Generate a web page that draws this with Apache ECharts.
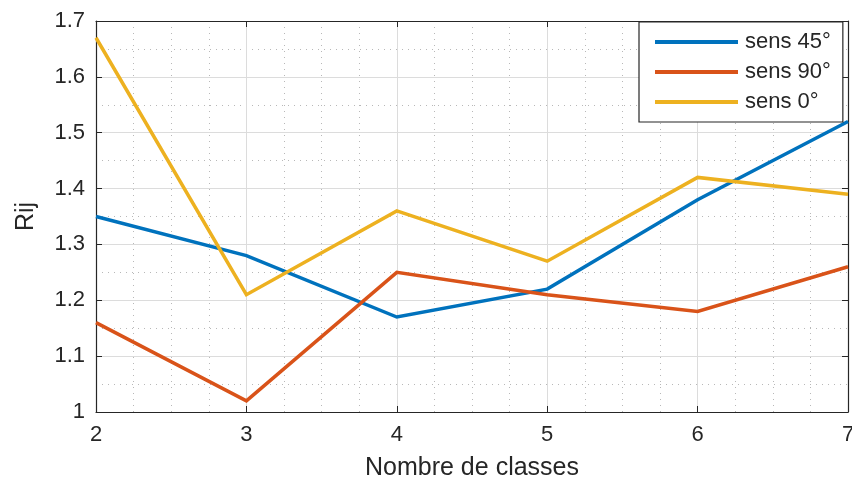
<!DOCTYPE html>
<html>
<head>
<meta charset="utf-8">
<script src="https://cdn.jsdelivr.net/npm/echarts@6/dist/echarts.min.js"></script>
<style>
  html, body { margin: 0; padding: 0; background: #fff; }
  #main { width: 852px; height: 488px; }
</style>
</head>
<body>
<div id="main"></div>
<script>
var classes = [2, 3, 4, 5, 6, 7];
var sens45 = [1.35, 1.28, 1.17, 1.22, 1.38, 1.52];
var sens90 = [1.16, 1.02, 1.25, 1.21, 1.18, 1.26];
var sens0  = [1.67, 1.21, 1.36, 1.27, 1.42, 1.39];
var seriesNames = ['sens 45°', 'sens 90°', 'sens 0°'];

function pairs(vals) {
    return classes.map(function (c, i) { return [c, vals[i]]; });
}

var chart = echarts.init(document.getElementById('main'));
var axisCol = '#262626';
var font = 'Liberation Sans, Arial, sans-serif';

function lineSeries(name, vals, color) {
    return {
        name: name,
        type: 'line',
        data: pairs(vals),
        symbol: 'none',
        xAxisIndex: 0,
        yAxisIndex: 0,
        lineStyle: { color: color, width: 3.5, join: 'miter' },
        itemStyle: { color: color }
    };
}

var option = {
    backgroundColor: '#fff',
    animation: false,
    grid: { left: 96, right: 4, top: 21, bottom: 76, outerBoundsMode: 'none', containLabel: false },
    legend: {
        orient: 'vertical',
        left: 639,
        top: 22,
        padding: [9, 12, 9, 16],
        itemGap: 8,
        itemWidth: 83,
        itemHeight: 4,
        icon: 'rect',
        backgroundColor: '#fff',
        borderColor: axisCol,
        borderWidth: 1.2,
        borderRadius: 0,
        textStyle: { fontFamily: font, fontSize: 22, color: axisCol, lineHeight: 22, padding: [0, 0, 0, 2] },
        data: seriesNames
    },
    xAxis: [{
        type: 'value',
        min: 2, max: 7, interval: 1,
        name: 'Nombre de classes',
        nameLocation: 'middle',
        nameGap: 44,
        nameTextStyle: { fontFamily: font, fontSize: 25, color: axisCol },
        axisLine: { show: true, lineStyle: { color: axisCol, width: 1.2 } },
        axisTick: { show: true, inside: true, length: 6, lineStyle: { color: axisCol } },
        axisLabel: { fontFamily: font, fontSize: 22, color: axisCol, margin: 12 },
        splitLine: { show: true, lineStyle: { color: '#dcdcdc', width: 1 } },
        minorTick: { show: false, splitNumber: 4 },
        minorSplitLine: { show: true, lineStyle: { color: '#b8b8b8', width: 1, type: [1, 5] } }
    }, {
        type: 'value',
        position: 'top',
        min: 2, max: 7, interval: 1,
        axisLine: { show: true, lineStyle: { color: axisCol, width: 1.2 } },
        axisTick: { show: true, inside: true, length: 6, lineStyle: { color: axisCol } },
        axisLabel: { show: false },
        splitLine: { show: false }
    }],
    yAxis: [{
        type: 'value',
        min: 1, max: 1.7, interval: 0.1,
        name: 'Rij',
        nameLocation: 'middle',
        nameGap: 57,
        nameTextStyle: { fontFamily: font, fontSize: 25, color: axisCol },
        axisLine: { show: true, lineStyle: { color: axisCol, width: 1.2 } },
        axisTick: { show: true, inside: true, length: 6, lineStyle: { color: axisCol } },
        axisLabel: {
            fontFamily: font, fontSize: 22, color: axisCol, margin: 11,
            formatter: function (v) { return String(Math.round(v * 10) / 10); }
        },
        splitLine: { show: true, lineStyle: { color: '#dcdcdc', width: 1 } },
        minorTick: { show: false, splitNumber: 2 },
        minorSplitLine: { show: true, lineStyle: { color: '#b8b8b8', width: 1, type: [1, 5] } }
    }, {
        type: 'value',
        position: 'right',
        min: 1, max: 1.7, interval: 0.1,
        axisLine: { show: true, lineStyle: { color: axisCol, width: 1.2 } },
        axisTick: { show: true, inside: true, length: 6, lineStyle: { color: axisCol } },
        axisLabel: { show: false },
        splitLine: { show: false }
    }],
    series: [
        lineSeries(seriesNames[0], sens45, '#0072BD'),
        lineSeries(seriesNames[1], sens90, '#D95319'),
        lineSeries(seriesNames[2], sens0, '#EDB120')
    ]
};

chart.setOption(option);
</script>
</body>
</html>
